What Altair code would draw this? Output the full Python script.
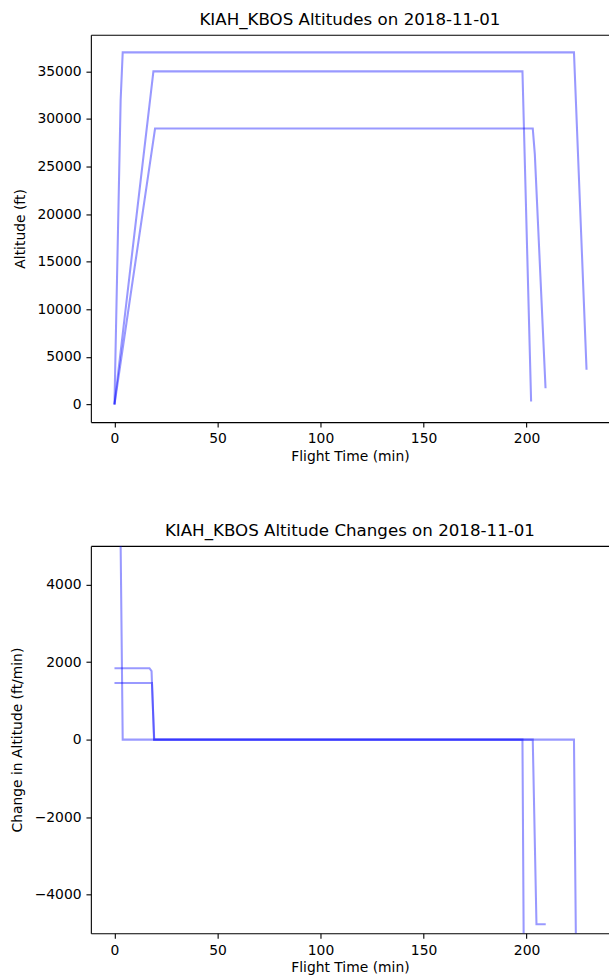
import altair as alt
import pandas as pd

# ---- Altitude series (minutes, feet) ----
alt_a_t = [0, 3, 4, 223, 229.1]
alt_a_v = [0, 32000, 37000, 37000, 3650]
alt_b_t = [0, 18.9, 198, 202.2]
alt_b_v = [0, 35000, 35000, 315]
alt_c_t = [0, 19.7, 203, 204, 209.2]
alt_c_v = [0, 29000, 29000, 26300, 1700]

# ---- Altitude change series (minutes, ft/min) ----
chg_a_t = [0, 2, 3, 4, 223, 224, 228]
chg_a_v = [10667, 10667, 5000, 0, 0, -5533, -5533]
chg_b_t = [0, 17, 18, 19.2, 198, 199, 201]
chg_b_v = [1842, 1842, 1770, 0, 0, -8700, -8700]
chg_c_t = [0, 18.2, 19.3, 203, 204.8, 209.3]
chg_c_v = [1463, 1463, 0, 0, -4766, -4766]

x_ticks = [0, 50, 100, 150, 200]
alt_ticks = [0, 5000, 10000, 15000, 20000, 25000, 30000, 35000]
chg_ticks = [-4000, -2000, 0, 2000, 4000]


def frame(series):
    rows = []
    for name, ts, vs in series:
        for t, v in zip(ts, vs):
            rows.append({"flight": name, "t": t, "v": v})
    return pd.DataFrame(rows)


df_alt = frame([("A", alt_a_t, alt_a_v), ("B", alt_b_t, alt_b_v), ("C", alt_c_t, alt_c_v)])
df_chg = frame([("A", chg_a_t, chg_a_v), ("B", chg_b_t, chg_b_v), ("C", chg_c_t, chg_c_v)])

W = 519
H = 388
x_dom = [-11.46, 240.0]


def panel(df, title, ytitle, ydom, yticks):
    xs = alt.Scale(domain=x_dom, nice=False, zero=False)
    ys = alt.Scale(domain=ydom, nice=False, zero=False)
    lines = alt.Chart(df).mark_line(
        color="#0000ff", opacity=0.4, strokeWidth=2.08, clip=True
    ).encode(
        x=alt.X("t:Q", scale=xs, axis=alt.Axis(values=x_ticks, title="Flight Time (min)", format="d")),
        y=alt.Y("v:Q", scale=ys, axis=alt.Axis(values=yticks, title=ytitle, format="d")),
        detail="flight:N",
    )
    spine = alt.Chart(df).mark_line(opacity=0, clip=True).encode(
        x=alt.X("t:Q", scale=xs, axis=alt.Axis(orient="top", labels=False, ticks=False, title=None)),
        y=alt.Y("v:Q", scale=ys),
        detail="flight:N",
    )
    return alt.layer(lines, spine).resolve_scale(x="independent").properties(
        width=W, height=H,
        title=alt.TitleParams(title, fontSize=16.7, font="DejaVu Sans", fontWeight="normal",
                              color="black", offset=6),
    )


top = panel(df_alt, "KIAH_KBOS Altitudes on 2018-11-01", "Altitude (ft)", [-1850, 38850], alt_ticks)
bottom = panel(df_chg, "KIAH_KBOS Altitude Changes on 2018-11-01", "Change in Altitude (ft/min)",
               [-5000, 5000], chg_ticks)

chart = alt.vconcat(top, bottom, spacing=59).properties(
    padding={"left": 10, "top": 11, "right": 0, "bottom": 0}
).configure_view(stroke=None).configure_axis(
    labelFont="DejaVu Sans", labelFontSize=13.9, labelColor="black",
    titleFont="DejaVu Sans", titleFontSize=13.9, titleFontWeight="normal", titleColor="black",
    tickColor="black", domainColor="black", tickWidth=1.1, domainWidth=1.1,
    tickSize=4.9, labelPadding=4.9, grid=False,
).configure_axisX(titlePadding=4).configure_axisY(titlePadding=9.6)

chart.save("out.html", embed_options={"renderer": "svg", "actions": False})
